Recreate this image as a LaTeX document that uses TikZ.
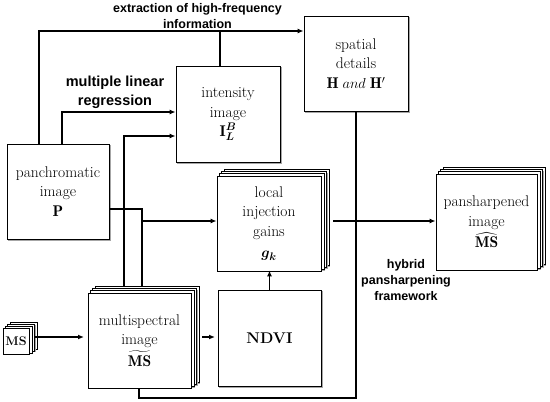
\documentclass[tikz,border=0pt]{standalone}
\usepackage{amsmath}
\usepackage{bm}
\usepackage{fontspec}
\newfontfamily\labfont{Liberation Sans}
\usetikzlibrary{arrows.meta,backgrounds}
\tikzset{
  box/.style={draw=black, line width=0.8pt, fill=white, align=center, inner sep=1pt,
    font=\fontsize{15.5}{19.5}\selectfont},
  conn/.style={line width=1.8pt},
  arr/.style={conn, -{Latex[length=6pt,width=5pt]}},
  lab/.style={align=center, font=\labfont\bfseries\fontsize{12.5}{16}\selectfont},
  stackbox/.style={draw=black, line width=0.6pt, fill=white}
}
\newcommand{\stackit}[1]{%
  \begin{scope}[on background layer]
    \foreach \k in {3,2,1} {
      \fill[black!35] ([xshift=\k*2.5pt+1.2pt,yshift=\k*2pt-1.2pt]#1.south west) rectangle ([xshift=\k*2.5pt+1.2pt,yshift=\k*2pt-1.2pt]#1.north east);
      \draw[stackbox] ([xshift=\k*2.5pt,yshift=\k*2pt]#1.south west) rectangle ([xshift=\k*2.5pt,yshift=\k*2pt]#1.north east);
    }
  \end{scope}}
\newcommand{\shadowit}[1]{%
  \begin{scope}[on background layer]
    \fill[black!35] ([xshift=1.5pt,yshift=-1.5pt]#1.south west) rectangle ([xshift=1.5pt,yshift=-1.5pt]#1.north east);
  \end{scope}}
\begin{document}
\begin{tikzpicture}[x=1pt,y=-1pt]
\useasboundingbox (0,0) rectangle (550,402);

% nodes
\node[box, minimum width=102pt, minimum height=95pt] (pan) at (58,191.5)
  {panchromatic\\image\\$\mathbf{P}$};
\shadowit{pan}
\node[box, minimum width=104pt, minimum height=96pt] (inten) at (228,114)
  {intensity\\image\\$\bm{\mathrm{I}_{L}^{B}}$};
\shadowit{inten}
\node[box, minimum width=104pt, minimum height=95pt] (spat) at (356,63.5)
  {spatial\\details\\$\mathbf{H}\;and\;\mathbf{H}'$};
\shadowit{spat}
\node[box, minimum width=104pt, minimum height=95pt] (gains) at (269,223.5)
  {local\\injection\\gains\\[2pt]$\bm{g_k}$};
\stackit{gains}
\node[box, minimum width=103pt, minimum height=96pt] (ndvi) at (269.5,338)
  {\textbf{NDVI}};
\shadowit{ndvi}
\node[box, minimum width=103pt, minimum height=95pt] (msi) at (139.5,340.5)
  {multispectral\\image\\[2pt]$\widetilde{\mathbf{MS}}$};
\stackit{msi}
\node[box, minimum width=101pt, minimum height=96pt] (pans) at (486.5,222)
  {pansharpened\\image\\[2pt]$\widehat{\mathbf{MS}}$};
\stackit{pans}
\node[box, minimum width=26pt, minimum height=26pt, inner sep=0pt,
  font=\fontsize{12.5}{14}\selectfont] (mss) at (16,341.5) {\textbf{MS}};
\stackit{mss}

% labels
\node[lab] (labA) at (197.5,16) {extraction of high-frequency\\information};
\node[lab, font=\labfont\bfseries\fontsize{14.5}{19}\selectfont] (labB) at (115,92.5) {multiple linear\\regression};
\node[lab] (labC) at (406,280) {hybrid\\pansharpening\\framework};

% helper coordinates
\coordinate (c1) at (39,31);
\coordinate (c2) at (220,31);
\coordinate (c3) at (62,112);
\coordinate (c4) at (124,136);
\coordinate (msitop) at (124,286);
\coordinate (c5) at (142,209);
\coordinate (c6) at (142,221);
\coordinate (c8) at (202,337);
\coordinate (c9) at (35,337);
\coordinate (c10) at (333,221);
\coordinate (c12) at (139,398);
\coordinate (ndviin) at (215,337);
\coordinate (msiin) at (84,337);

% connectors
\draw[arr] (pan.north -| c1) -- (c1) -- (spat.west |- c1);
\draw[conn] (inten.north -| c2) -- (c2);
\draw[arr] (pan.north -| c3) -- (c3) -- (inten.west |- c3);
\draw[arr] (msitop -| c4) -- (c4) -- (inten.west |- c4);
\draw[conn] (pan.east |- c5) -- (c5) -- (c5 |- msitop);
\draw[arr] (c6) -- (gains.west |- c6);
\draw[arr] (ndvi.north) -- ([yshift=1pt]gains.south -| ndvi.north);
\draw[arr] (c8) -- (ndviin);
\draw[arr] (c9) -- (msiin);
\draw[arr] (c10) -- (pans.west |- c10);
\draw[conn] (spat.south) |- (c12) -- (c12 |- msi.south);
\end{tikzpicture}
\end{document}
